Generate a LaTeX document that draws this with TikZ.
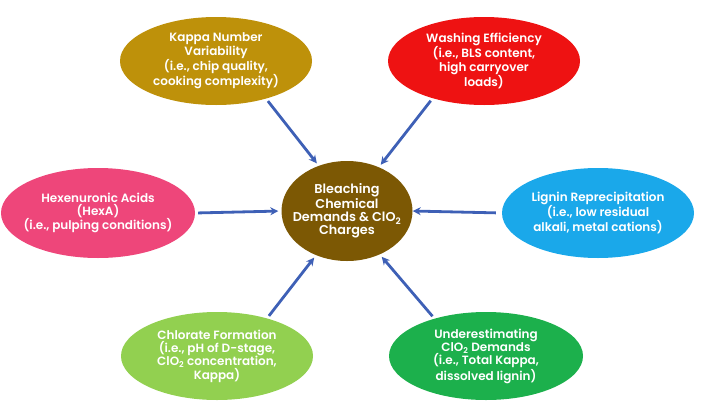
\documentclass[tikz,border=0pt]{standalone}
\usepackage{fontspec}
\setmainfont{Poppins}[BoldFont={Poppins SemiBold}]
\usepackage{tikz}
\usetikzlibrary{shapes.geometric, arrows.meta, positioning}
\usepackage{xcolor}

\definecolor{kappagold}{RGB}{190,145,10}
\definecolor{washred}{RGB}{238,18,18}
\definecolor{hexpink}{RGB}{238,70,122}
\definecolor{corebrown}{RGB}{124,88,4}
\definecolor{ligninblue}{RGB}{26,168,234}
\definecolor{chloratelime}{RGB}{146,208,80}
\definecolor{underestgreen}{RGB}{28,176,76}
\definecolor{arrowblue}{RGB}{62,96,182}

\begin{document}
\begin{tikzpicture}[
    x=1pt, y=-1pt,
    blob/.style={
        ellipse,
        draw=none,
        minimum width=192pt,
        minimum height=88pt,
        inner xsep=-30pt,
        inner ysep=0pt,
        text=white,
        align=center,
        font=\fontsize{12}{13.3}\selectfont\bfseries
    },
    arrow/.style={
        -{Stealth[length=8pt, width=8pt]},
        line width=2.8pt,
        arrowblue,
        shorten >=3pt,
        shorten <=3pt
    }
]
    \useasboundingbox (0,0) rectangle (703,407);

    \node[blob, fill=corebrown, minimum width=131pt, minimum height=100pt,
          font=\fontsize{12.8}{13.4}\selectfont\bfseries] (core) at (347,211)
        {Bleaching\\Chemical\\Demands \& ClO\textsubscript{2}\\Charges};

    \node[blob, fill=kappagold] (kappa) at (216,61)
        {Kappa Number\\Variability\\(i.e., chip quality,\\cooking complexity)};
    \node[blob, fill=washred] (washing) at (484,61)
        {Washing Efficiency\\(i.e., BLS content,\\high carryover\\loads)};
    \node[blob, fill=hexpink, minimum width=194pt, minimum height=90pt] (hexa) at (98,213)
        {Hexenuronic Acids\\(HexA)\\(i.e., pulping conditions)};
    \node[blob, fill=ligninblue, minimum height=90pt] (lignin) at (598,213)
        {Lignin Reprecipitation\\(i.e., low residual\\alkali, metal cations)};
    \node[blob, fill=chloratelime] (chlorate) at (217,356)
        {Chlorate Formation\\(i.e., pH of D-stage,\\ClO\textsubscript{2} concentration,\\Kappa)};
    \node[blob, fill=underestgreen, minimum width=194pt] (underest) at (486,356)
        {Underestimating\\ClO\textsubscript{2} Demands\\(i.e., Total Kappa,\\dissolved lignin)};

    \draw[arrow] (kappa.-37) -- (core.122);
    \draw[arrow] (washing.216) -- (core.54);
    \draw[arrow] (hexa.east) -- (core.west);
    \draw[arrow, shorten <=6pt, shorten >=0pt] (lignin.west) -- (core.east);
    \draw[arrow] (chlorate.37) -- (core.235);
    \draw[arrow] (underest.144) -- (core.307);
\end{tikzpicture}
\end{document}
